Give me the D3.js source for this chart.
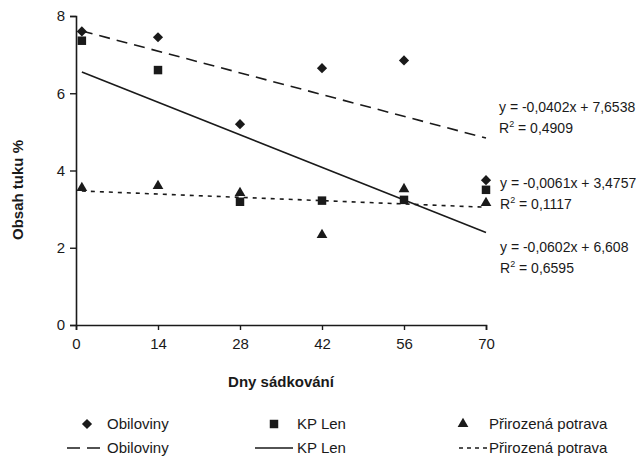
<!DOCTYPE html>
<html><head><meta charset="utf-8">
<script src="https://cdn.jsdelivr.net/npm/d3@7"></script>
<style>
html,body{margin:0;padding:0;background:#fff;}
text{font-family:"Liberation Sans",Arial,sans-serif;fill:#1a1a1a;}
</style></head>
<body><svg id="c" width="636" height="459"></svg>
<script>
const days = [1, 14, 28, 42, 56, 70];
const obiloviny = [7.6, 7.45, 5.2, 6.65, 6.85, 3.75];
const kpLen = [7.36, 6.6, 3.19, 3.22, 3.24, 3.5];
const prirozena = [3.55, 3.6, 3.42, 2.33, 3.52, 3.16];
const seriesNames = ["Obiloviny", "KP Len", "Přirozená potrava"];
const slopes = [-0.0402, -0.0602, -0.0061];
const intercepts = [7.6538, 6.608, 3.4757];
const eqLabels = ["y = -0,0402x + 7,6538", "y = -0,0602x + 6,608", "y = -0,0061x + 3,4757"];
const r2Labels = ["0,4909", "0,6595", "0,1117"];
const xTicks = [0, 14, 28, 42, 56, 70];
const yTicks = [0, 2, 4, 6, 8];
const xTitle = "Dny sádkování";
const yTitle = "Obsah tuku %";

const svg = d3.select("#c");
const x = d3.scaleLinear().domain([0, 70]).range([76, 486]);
const y = d3.scaleLinear().domain([0, 8]).range([325, 16]);
const ink = "#1a1a1a";

// axes
const gx = svg.append("g").attr("transform", `translate(0,${y(0)})`)
  .call(d3.axisBottom(x).tickValues(xTicks).tickSize(5).tickPadding(8).tickFormat(d3.format("d")));
const gy = svg.append("g").attr("transform", `translate(${x(0)},0)`)
  .call(d3.axisLeft(y).tickValues(yTicks).tickSize(6).tickPadding(5).tickFormat(d3.format("d")));
[gx, gy].forEach(g => {
  g.select(".domain").attr("stroke", ink).attr("stroke-width", 1.6);
  g.selectAll(".tick line").attr("stroke", ink).attr("stroke-width", 1.4);
  g.selectAll(".tick text").attr("font-size", 15).attr("fill", ink)
   .attr("font-family", "Liberation Sans, Arial, sans-serif");
});

// titles
svg.append("text").attr("x", x(35)).attr("y", 387).attr("text-anchor", "middle")
  .attr("font-size", 15).attr("font-weight", "bold").text(xTitle);
svg.append("text").attr("transform", "translate(23,190) rotate(-90)").attr("text-anchor", "middle")
  .attr("font-size", 15).attr("font-weight", "bold").text(yTitle);

const dashes = ["11,7", null, "4,5"];
// trend lines
slopes.forEach((m, i) => {
  const pts = [1, 70].map(d => [x(d), y(intercepts[i] + m * d)]);
  svg.append("path").attr("d", d3.line()(pts)).attr("fill", "none")
    .attr("stroke", ink).attr("stroke-width", 1.6)
    .attr("stroke-dasharray", dashes[i]);
});

// markers
const sym = [
  d3.symbol().type(d3.symbolSquare).size(52),
  d3.symbol().type(d3.symbolSquare).size(72),
  d3.symbol().type(d3.symbolTriangle).size(50)
];
const rot = [45, 0, 0];
[obiloviny, kpLen, prirozena].forEach((vals, i) => {
  svg.append("g").selectAll("path").data(vals).join("path")
    .attr("d", sym[i]())
    .attr("transform", (d, j) => `translate(${x(days[j])},${y(d)}) rotate(${rot[i]})`)
    .attr("fill", ink);
});

// equation labels
const eqPos = [[499, 112], [500, 252], [500, 188]];
eqLabels.forEach((t, i) => {
  const g = svg.append("g").attr("transform", `translate(${eqPos[i][0]},${eqPos[i][1]})`);
  g.append("text").attr("font-size", 14).text(t);
  const r = g.append("text").attr("y", 21).attr("font-size", 14);
  r.append("tspan").text("R");
  r.append("tspan").attr("font-size", 9).attr("dy", -6).text("2");
  r.append("tspan").attr("dy", 6).text(" = " + r2Labels[i]);
});

// legend
const legX = [87, 274, 463];
const legTextX = [107, 297, 489];
const lineX = [[67, 100], [255, 293], [459, 487]];
const legDash = ["13,7", null, "4,4"];
seriesNames.forEach((n, i) => {
  svg.append("path").attr("d", sym[i]())
    .attr("transform", `translate(${legX[i]},424) rotate(${rot[i]})`).attr("fill", ink);
  svg.append("text").attr("x", legTextX[i]).attr("y", 429).attr("font-size", 15).text(n);
  svg.append("line").attr("x1", lineX[i][0]).attr("x2", lineX[i][1]).attr("y1", 448).attr("y2", 448)
    .attr("stroke", ink).attr("stroke-width", 1.6).attr("stroke-dasharray", legDash[i]);
  svg.append("text").attr("x", legTextX[i]).attr("y", 453).attr("font-size", 15).text(n);
});
</script></body></html>
